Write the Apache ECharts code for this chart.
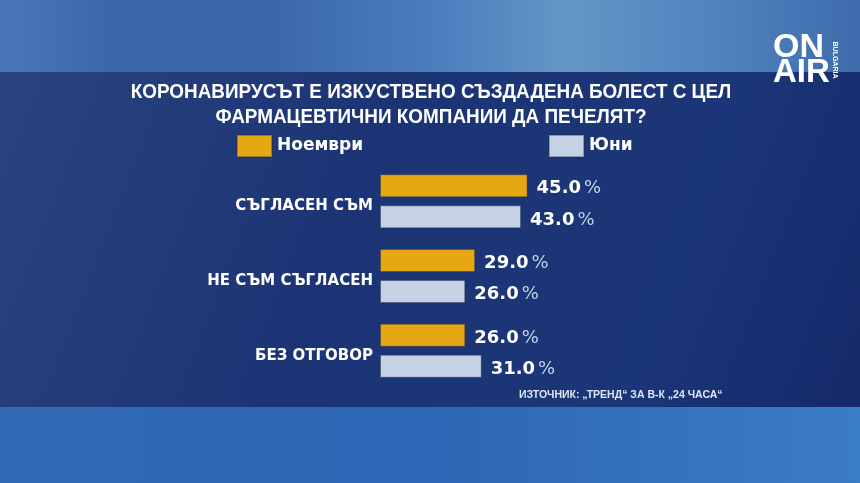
<!DOCTYPE html>
<html><head><meta charset="utf-8">
<script src="https://cdn.jsdelivr.net/npm/echarts@6/dist/echarts.min.js"></script>
<style>html,body{margin:0;padding:0;background:#1b3476}#c{width:860px;height:483px}</style>
</head><body><div id="c"></div>
<script>
const categories = ['СЪГЛАСЕН СЪМ', 'НЕ СЪМ СЪГЛАСЕН', 'БЕЗ ОТГОВОР'];
const seriesNames = ['Ноември', 'Юни'];
const novemberValues = [45.0, 29.0, 26.0];
const juneValues = [43.0, 26.0, 31.0];
const titleLines = ['КОРОНАВИРУСЪТ Е ИЗКУСТВЕНО СЪЗДАДЕНА БОЛЕСТ С ЦЕЛ', 'ФАРМАЦЕВТИЧНИ КОМПАНИИ ДА ПЕЧЕЛЯТ?'];
const sourceText = 'ИЗТОЧНИК: „ТРЕНД“ ЗА В-К „24 ЧАСА“';

const chart = echarts.init(document.getElementById('c'), null, {renderer: 'canvas'});
const sans = '"Liberation Sans", Arial, sans-serif';
const wide = '"DejaVu Sans", "Liberation Sans", sans-serif';
const LG = echarts.graphic.LinearGradient;

function valueLabel(p) {
  return '{v|' + p.value.toFixed(1) + '}{p|%}';
}
const labelRich = {
  v: {fontFamily: wide, fontWeight: 'bold', fontSize: 18, color: '#ffffff'},
  p: {fontFamily: wide, fontWeight: 'normal', fontSize: 18, color: '#c6d2e8', padding: [0, 0, 0, 3]}
};
const legendText = {color: '#ffffff', fontFamily: wide, fontWeight: 'bold', fontSize: 17};

chart.setOption({
  backgroundColor: '#1b3476',
  animation: false,
  graphic: [
    {type: 'rect', z: -10, silent: true, shape: {x: 0, y: 0, width: 860, height: 73},
      style: {fill: new LG(0, 0, 1, 0, [
        {offset: 0, color: '#4a78b6'}, {offset: 0.12, color: '#3d68a8'}, {offset: 0.3, color: '#3a66a8'},
        {offset: 0.5, color: '#4a7dbc'}, {offset: 0.66, color: '#6496c6'}, {offset: 0.8, color: '#5487c0'}, {offset: 1, color: '#3e6cac'}])}},
    {type: 'rect', z: -10, silent: true, shape: {x: 0, y: 72, width: 860, height: 335},
      style: {fill: new LG(0, 0, 1, 1, [
        {offset: 0, color: '#29447f'}, {offset: 0.4, color: '#1c3475'}, {offset: 0.75, color: '#1b3678'}, {offset: 1, color: '#14296a'}])}},
    {type: 'rect', z: -10, silent: true, shape: {x: 0, y: 407, width: 860, height: 76},
      style: {fill: new LG(0, 0, 1, 0, [
        {offset: 0, color: '#3169b4'}, {offset: 0.5, color: '#2d66b4'}, {offset: 1, color: '#3b7dc4'}])}},
    {type: 'text', z: 5, silent: true, x: 773, y: 31,
      style: {text: 'ON', fill: '#ffffff', font: 'bold 34px ' + sans, textVerticalAlign: 'top'}},
    {type: 'text', z: 5, silent: true, x: 773, y: 56,
      style: {text: 'AIR', fill: '#ffffff', font: 'bold 33px ' + sans, textVerticalAlign: 'top'}},
    {type: 'text', z: 5, silent: true, x: 835, y: 60, rotation: -Math.PI / 2,
      style: {text: 'BULGARIA', fill: '#ffffff', font: 'bold 7px ' + sans, textAlign: 'center', textVerticalAlign: 'middle'}},
    {type: 'text', z: 5, silent: true, x: 431, y: 92, scaleX: 0.9,
      style: {text: titleLines[0], fill: '#ffffff', font: 'bold 21px ' + sans, textAlign: 'center', textVerticalAlign: 'middle'}},
    {type: 'text', z: 5, silent: true, x: 431, y: 117, scaleX: 0.9,
      style: {text: titleLines[1], fill: '#ffffff', font: 'bold 21px ' + sans, textAlign: 'center', textVerticalAlign: 'middle'}},
    {type: 'text', z: 5, silent: true, x: 519, y: 395,
      style: {text: sourceText, fill: '#dfe6f3', font: 'bold 10.5px ' + sans, textAlign: 'left', textVerticalAlign: 'middle'}}
  ],
  legend: [
    {data: [seriesNames[0]], left: 236, top: 134, padding: 0, itemWidth: 35, itemHeight: 22, itemTextGap: 6, icon: 'rect', textStyle: legendText},
    {data: [seriesNames[1]], left: 548, top: 134, padding: 0, itemWidth: 35, itemHeight: 22, itemTextGap: 6, icon: 'rect', textStyle: legendText}
  ],
  grid: {left: 380, width: 328, top: 164, height: 224},
  xAxis: {type: 'value', min: 0, max: 100, show: false},
  yAxis: {type: 'category', data: categories, inverse: true,
    axisLine: {show: false}, axisTick: {show: false}, splitLine: {show: false},
    axisLabel: {color: '#ffffff', fontFamily: wide, fontWeight: 'bold', fontSize: 15, margin: 7,
      verticalAlign: 'top', lineHeight: 10}},
  series: [
    {name: seriesNames[0], type: 'bar', data: novemberValues, barWidth: 23, barGap: '35%',
      itemStyle: {color: '#e6a812', borderColor: 'rgba(40,40,60,0.35)', borderWidth: 1},
      label: {show: true, position: 'right', distance: 9, offset: [0, 3], formatter: valueLabel, rich: labelRich}},
    {name: seriesNames[1], type: 'bar', data: juneValues, barWidth: 23, barGap: '35%',
      itemStyle: {color: '#c5d2e5', borderColor: 'rgba(40,40,60,0.35)', borderWidth: 1},
      label: {show: true, position: 'right', distance: 9, offset: [0, 3], formatter: valueLabel, rich: labelRich}}
  ]
});
</script></body></html>
